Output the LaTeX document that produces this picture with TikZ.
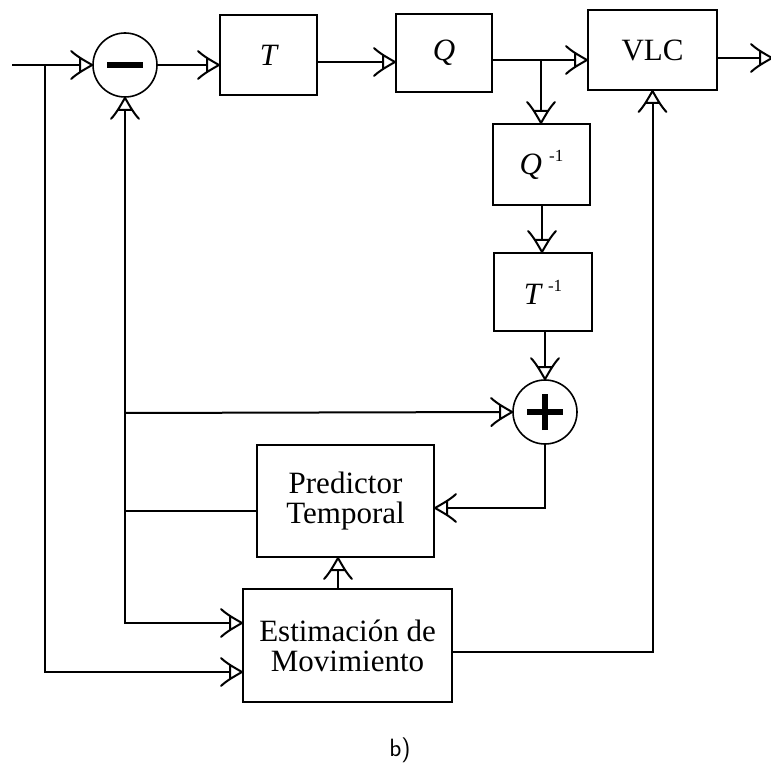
\documentclass[tikz,border=0pt]{standalone}
\usepackage{fontspec}
\setmainfont{Liberation Serif}
\usetikzlibrary{arrows.meta}
\pgfdeclarearrow{
  name = OpenVee,
  parameters = {},
  setup code = {
    \pgfarrowssettipend{0pt}
    \pgfarrowssetlineend{-12pt}
    \pgfarrowssetbackend{-21pt}
    \pgfarrowssetvisualbackend{-21pt}
    \pgfarrowsupperhullpoint{-21pt}{14pt}
    \pgfarrowsupperhullpoint{0pt}{0pt}
  },
  drawing code = {
    \pgfsetdash{}{0pt}
    \pgfsetroundjoin
    \pgfsetroundcap
    \pgfpathmoveto{\pgfpoint{-21pt}{14pt}}
    \pgfpathcurveto{\pgfpoint{-16pt}{9pt}}{\pgfpoint{-7pt}{4pt}}{\pgfpoint{0pt}{0pt}}
    \pgfpathcurveto{\pgfpoint{-7pt}{-4pt}}{\pgfpoint{-16pt}{-9pt}}{\pgfpoint{-21pt}{-14pt}}
    \pgfpathmoveto{\pgfpoint{-12pt}{7pt}}
    \pgfpathlineto{\pgfpoint{-12pt}{-7pt}}
    \pgfusepathqstroke
  }
}
\begin{document}
\begin{tikzpicture}[x=1pt,y=-1pt,line width=2pt,
  blk/.style={draw,rectangle,inner sep=0pt,font=\fontsize{31}{31}\selectfont},
  sumnode/.style={draw,circle,minimum size=64pt,inner sep=0pt,line width=1.6pt},
  arr/.style={-{OpenVee}},
  sign/.style={line width=5.5pt}]
\useasboundingbox (0,0) rectangle (771,767);
% nodes
\node[sumnode] (minus) at (125,65) {};
\node[blk,minimum width=97pt,minimum height=80pt] (T) at (268.5,55) {\itshape T};
\node[blk,minimum width=96pt,minimum height=78pt] (Q) at (444,53) {\itshape Q};
\node[blk,minimum width=129pt,minimum height=80pt] (VLC) at (652.5,50) {VLC};
\node[blk,minimum width=97pt,minimum height=81pt] (Qinv) at (541.5,164.5) {{\itshape Q}\hspace{7pt}\raisebox{13pt}{\fontsize{17}{17}\selectfont -1}};
\node[blk,minimum width=98pt,minimum height=78pt] (Tinv) at (543,292) {{\itshape T}\hspace{7pt}\raisebox{13pt}{\fontsize{17}{17}\selectfont -1}};
\node[sumnode] (plus) at (545,412) {};
\node[blk,minimum width=177pt,minimum height=112pt,align=center,font=\fontsize{31}{30}\selectfont] (Pred) at (345.5,501) {Predictor\\Temporal};
\node[blk,minimum width=209pt,minimum height=113pt,align=center,font=\fontsize{31}{30}\selectfont] (Est) at (347.5,645.5) {Estimación de\\Movimiento};
\node[font=\sffamily\fontsize{25}{25}\selectfont] (lab) at (400,750) {b)};
% signs
\draw[sign] ([xshift=-18pt]minus.center) -- ([xshift=18pt]minus.center);
\draw[sign] ([xshift=-18pt]plus.center) -- ([xshift=18pt]plus.center);
\draw[sign] ([yshift=-18pt]plus.center) -- ([yshift=18pt]plus.center);
% coordinates
\coordinate (in) at (12,65);
\coordinate (br) at (45,65);
\coordinate (out) at (772,58);
\coordinate (qb) at (541,60);
\coordinate (jp) at (125,511);
\coordinate (jplus) at (125,413);
\coordinate (jest) at (125,623);
% connectors
\draw[arr] (in) -- (minus.west);
\draw[arr] (br) |- (Est.west |- 0,672);
\draw[arr] (minus.east) -- (T.west |- minus.east);
\draw[arr] (T.east |- 0,62) -- (Q.west |- 0,62);
\draw[arr] (Q.east |- 0,60) -- (VLC.west |- 0,60);
\draw[arr] (qb) -- (Qinv.north -| qb);
\draw[arr] (VLC.east |- 0,58) -- (out);
\draw[arr] (Qinv.south -| 542,0) -- (Tinv.north -| 542,0);
\draw[arr] (Tinv.south -| plus) -- (plus.north);
\draw[arr] (Pred.west |- jp) -- (jp) -- (minus.south);
\draw[arr] (jplus) -- (plus.west);
\draw[arr] (jp) -- (jest) -- (Est.west |- jest);
\draw[arr] (plus.south) |- (Pred.east |- 0,508);
\draw[arr] (Est.north -| 338,0) -- (Pred.south -| 338,0);
\draw[arr] (Est.east |- 0,652) -| (VLC.south);
\end{tikzpicture}
\end{document}
